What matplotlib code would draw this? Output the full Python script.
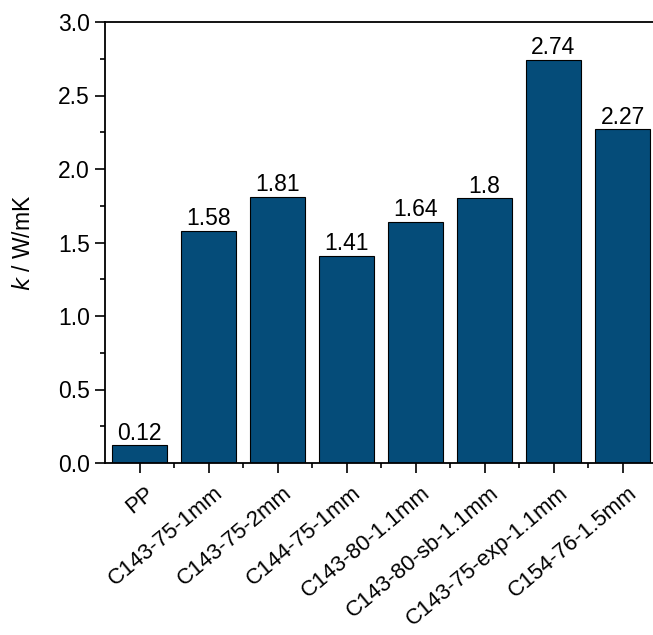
import numpy as np
import matplotlib.pyplot as plt
from matplotlib.ticker import MultipleLocator
from matplotlib.transforms import ScaledTranslation

samples = ['PP', 'C143-75-1mm', 'C143-75-2mm', 'C144-75-1mm', 'C143-80-1.1mm',
           'C143-80-sb-1.1mm', 'C143-75-exp-1.1mm', 'C154-76-1.5mm']
k_values = [0.12, 1.58, 1.81, 1.41, 1.64, 1.8, 2.74, 2.27]
value_labels = ['0.12', '1.58', '1.81', '1.41', '1.64', '1.8', '2.74', '2.27']

plt.rcParams['font.family'] = ['Liberation Sans', 'DejaVu Sans']
plt.rcParams['font.size'] = 16.5

fig = plt.figure(figsize=(6.53, 6.35), dpi=100)
ax = fig.add_axes([105 / 653, 172 / 635, 552 / 653, 441 / 635])

x = np.arange(len(samples))
bars = ax.bar(x, k_values, width=0.81, color='#054c79', edgecolor='black', linewidth=0.8)

# value above every bar
for b, lab in zip(bars, value_labels):
    ax.text(b.get_x() + b.get_width() / 2, b.get_height() + 0.005, lab,
            ha='center', va='bottom', fontsize=16.5)

ax.set_xlim(-0.5, len(samples) - 0.5)
ax.set_ylim(0, 3.0)
ax.yaxis.set_major_locator(MultipleLocator(0.5))
ax.yaxis.set_minor_locator(MultipleLocator(0.25))
ax.yaxis.set_major_formatter(plt.FormatStrFormatter('%.1f'))
ax.set_xticks(x)
ax.set_xticks(x[:-1] + 0.5, minor=True)
ax.set_xticklabels(samples, rotation=40, ha='right', va='center', rotation_mode='anchor',
                   fontsize=16)

ax.tick_params(which='major', direction='out', length=7, width=1.2)
ax.tick_params(axis='y', which='major', labelsize=16.5, pad=4)
ax.tick_params(which='minor', direction='out', length=3.6, width=1.2)
ax.tick_params(axis='x', which='major', pad=13)

# shift the slanted names a little to the right of their ticks
shift = ScaledTranslation(12 / 100, 0, fig.dpi_scale_trans)
for lab in ax.get_xticklabels():
    lab.set_transform(lab.get_transform() + shift)

for s in ['left', 'bottom', 'top']:
    ax.spines[s].set_linewidth(1.3)
ax.spines['right'].set_visible(False)

ax.set_ylabel(r'$k$ / W/mK', fontsize=16.5)
ax.yaxis.set_label_coords(-0.127, 0.5)

fig.savefig('out.png', dpi=100)
